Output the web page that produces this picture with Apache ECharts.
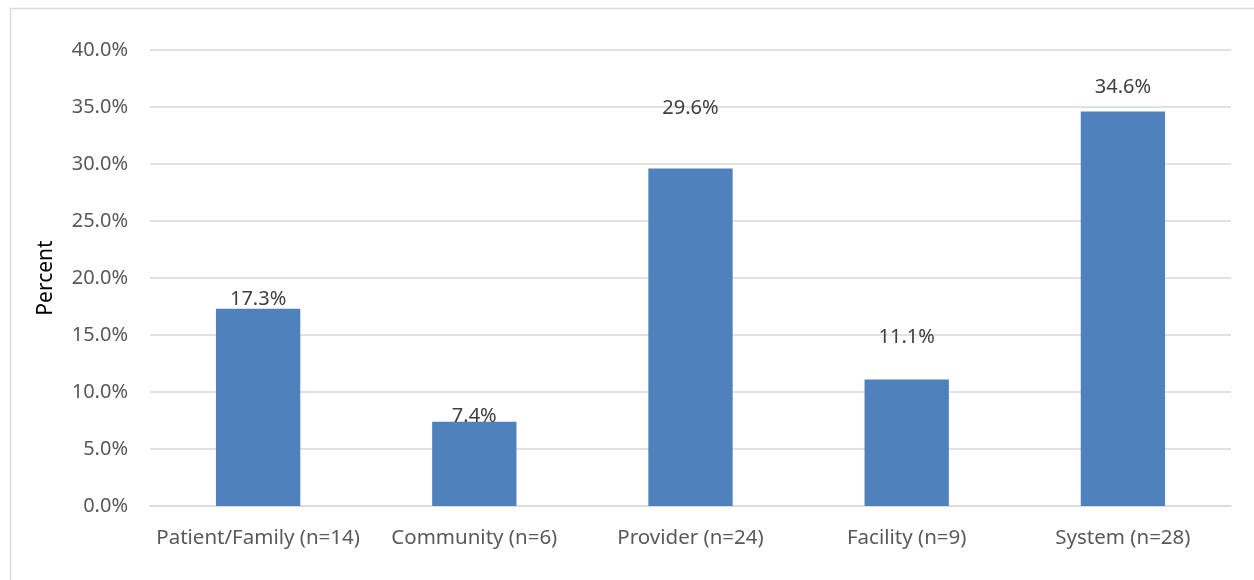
<!DOCTYPE html>
<html>
<head>
<meta charset="utf-8">
<script src="https://cdn.jsdelivr.net/npm/echarts@6/dist/echarts.min.js"></script>
<style>
  html, body { margin: 0; padding: 0; background: #fff; }
  #chart { width: 1254px; height: 580px; }
</style>
</head>
<body>
<div id="chart"></div>
<script>
const categories = ['Patient/Family (n=14)', 'Community (n=6)', 'Provider (n=24)', 'Facility (n=9)', 'System (n=28)']
const percents = [17.3, 7.4, 29.6, 11.1, 34.6]

const chart = echarts.init(document.getElementById('chart'))
const font = '"Noto Sans", sans-serif'

// excel had hand-placed labels, mimic their gaps above each bar
const labelGap = [-1, -5, 50, 32, 14]

chart.setOption({
  animation: false,
  textStyle: { fontFamily: font },
  graphic: [
    {
      type: 'rect',
      shape: { x: 10.5, y: 8.5, width: 1260, height: 600 },
      style: { fill: 'none', stroke: '#d9d9d9', lineWidth: 1.5 }
    }
  ],
  grid: { left: 150, right: 23, top: 50, bottom: 74 },
  xAxis: {
    type: 'category',
    data: categories,
    axisTick: { show: false },
    axisLine: { lineStyle: { color: '#d9d9d9', width: 1.5 } },
    axisLabel: { color: '#595959', fontSize: 20.5, margin: 22, interval: 0, fontFamily: font }
  },
  yAxis: {
    type: 'value',
    min: 0,
    max: 40,
    interval: 5,
    name: 'Percent',
    nameLocation: 'middle',
    nameRotate: 90,
    nameGap: 93,
    nameTextStyle: { color: '#000', fontSize: 21, fontFamily: font },
    axisLine: { show: false },
    axisTick: { show: false },
    splitLine: { lineStyle: { color: '#d9d9d9', width: 1.5 } },
    axisLabel: {
      color: '#595959',
      fontSize: 20,
      margin: 22,
      fontFamily: font,
      formatter: v => v.toFixed(1) + '%'
    }
  },
  series: [
    {
      type: 'bar',
      barWidth: '39%',
      data: percents.map((v, i) => ({
        value: v,
        label: { distance: labelGap[i] }
      })),
      itemStyle: { color: '#4f81bd' },
      label: {
        show: true,
        position: 'top',
        color: '#404040',
        fontSize: 20,
        fontFamily: font,
        formatter: p => p.value.toFixed(1) + '%'
      }
    }
  ]
})
</script>
</body>
</html>
